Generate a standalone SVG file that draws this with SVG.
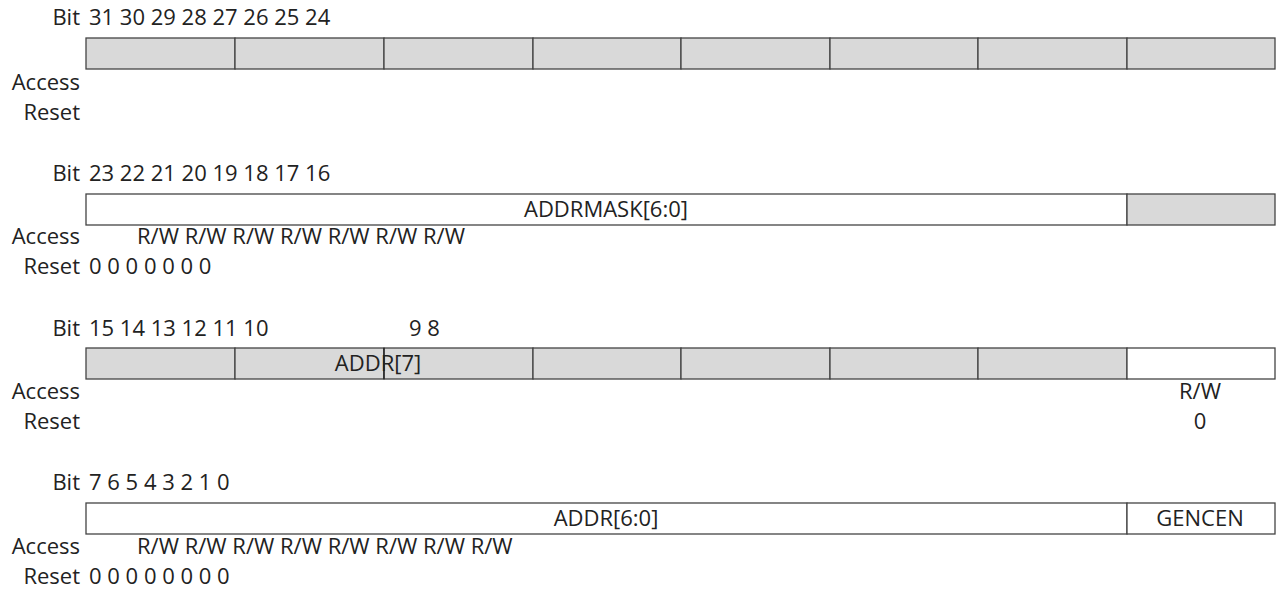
<svg xmlns="http://www.w3.org/2000/svg" width="1279" height="592" viewBox="0 0 1279 592">
<style>
text{font-family:"Open Sans","Noto Sans",sans-serif;font-size:22px;fill:#222}
.r{text-anchor:end}.m{text-anchor:middle}
.g{fill:#d9d9d9;stroke:#444;stroke-width:1.3}
.w{fill:#fff;stroke:#444;stroke-width:1.3}
</style>
<rect width="1279" height="592" fill="#fff"/>
<g id="row31">
<text x="80" y="25" class="r">Bit</text><text x="89" y="25">31 30 29 28 27 26 25 24</text>
<rect class="g" x="86" y="38" width="149" height="31"/><rect class="g" x="235" y="38" width="149" height="31"/><rect class="g" x="384" y="38" width="149" height="31"/><rect class="g" x="533" y="38" width="148" height="31"/><rect class="g" x="681" y="38" width="149" height="31"/><rect class="g" x="830" y="38" width="148" height="31"/><rect class="g" x="978" y="38" width="149" height="31"/><rect class="g" x="1127" y="38" width="148" height="31"/>
<text x="80" y="90" class="r">Access</text><text x="80" y="120" class="r">Reset</text>
</g>
<g id="row23">
<text x="80" y="181" class="r">Bit</text><text x="89" y="181">23 22 21 20 19 18 17 16</text>
<rect class="w" x="86" y="194" width="1041" height="31"/><rect class="g" x="1127" y="194" width="148" height="31"/>
<text x="606" y="217" class="m">ADDRMASK[6:0]</text>
<text x="80" y="244" class="r">Access</text><text x="137" y="244">R/W R/W R/W R/W R/W R/W R/W</text>
<text x="80" y="274" class="r">Reset</text><text x="89" y="274">0 0 0 0 0 0 0</text>
</g>
<g id="row15">
<text x="80" y="336" class="r">Bit</text><text x="89" y="336">15 14 13 12 11 10</text><text x="409" y="336">9 8</text>
<rect class="g" x="86" y="348" width="149" height="31"/><rect class="g" x="235" y="348" width="149" height="31"/><rect class="g" x="384" y="348" width="149" height="31"/><rect class="g" x="533" y="348" width="148" height="31"/><rect class="g" x="681" y="348" width="149" height="31"/><rect class="g" x="830" y="348" width="148" height="31"/><rect class="g" x="978" y="348" width="149" height="31"/><rect class="w" x="1127" y="348" width="148" height="31"/>
<text x="378" y="371" class="m">ADDR[7]</text>
<line x1="384" y1="348" x2="384" y2="379" stroke="#222" stroke-width="1.3"/>
<text x="80" y="399" class="r">Access</text><text x="1200" y="399" class="m">R/W</text>
<text x="80" y="429" class="r">Reset</text><text x="1200" y="429" class="m">0</text>
</g>
<g id="row7">
<text x="80" y="490" class="r">Bit</text><text x="89" y="490">7 6 5 4 3 2 1 0</text>
<rect class="w" x="86" y="503" width="1041" height="31"/><rect class="w" x="1127" y="503" width="148" height="31"/>
<text x="606" y="526" class="m">ADDR[6:0]</text><text x="1200" y="526" class="m">GENCEN</text>
<text x="80" y="554" class="r">Access</text><text x="137" y="554">R/W R/W R/W R/W R/W R/W R/W R/W</text>
<text x="80" y="584" class="r">Reset</text><text x="89" y="584">0 0 0 0 0 0 0 0</text>
</g>
<g id="connectors"/>
</svg>
